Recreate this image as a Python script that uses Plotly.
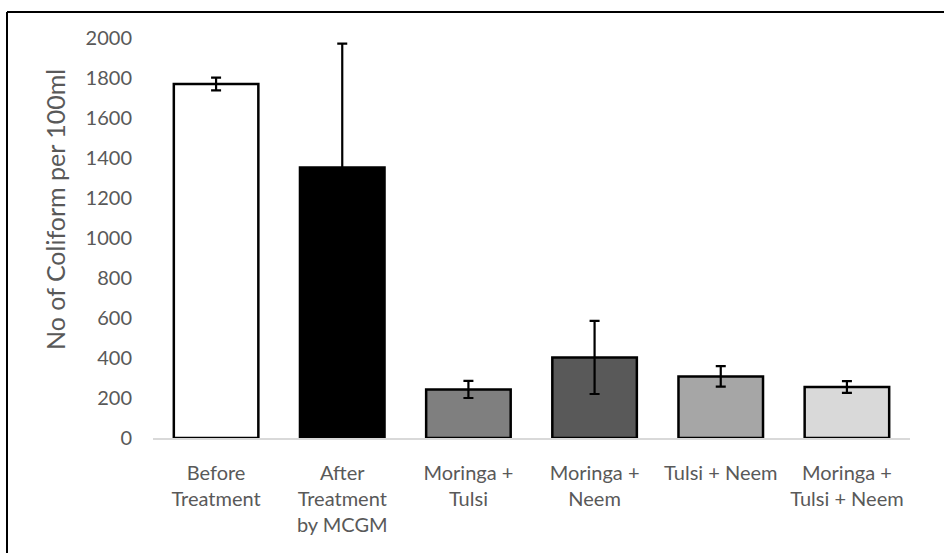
import plotly.graph_objects as go

categories = ["Before<br>Treatment", "After<br>Treatment<br>by MCGM", "Moringa +<br>Tulsi",
              "Moringa +<br>Neem", "Tulsi + Neem", "Moringa +<br>Tulsi + Neem"]
values = [1770, 1352, 243, 403, 308, 255]
errors = [32, 620, 43, 183, 51, 29]
colors = ["#ffffff", "#000000", "#7f7f7f", "#595959", "#a6a6a6", "#d9d9d9"]
y_ticks = list(range(0, 2001, 200))

W, H = 944, 553
L, R, T, B = 153, 34, 38, 115
pw, ph = W - L - R, H - T - B

fig = go.Figure(go.Bar(
    x=categories, y=values,
    marker=dict(color=colors, line=dict(color="black", width=2.5)),
    error_y=dict(type="data", array=errors, visible=True, color="black", thickness=2.2, width=5),
    width=0.67,
))

def px_to_paper_x(p):
    return (p - L) / pw

def px_to_paper_y(p):
    return (H - B - p) / ph

bx = px_to_paper_x(7)
by = px_to_paper_y(12)
fig.add_shape(type="line", xref="paper", yref="paper", x0=bx, x1=bx, y0=px_to_paper_y(560), y1=by,
              line=dict(color="black", width=2))
fig.add_shape(type="line", xref="paper", yref="paper", x0=bx, x1=px_to_paper_x(960), y0=by, y1=by,
              line=dict(color="black", width=2))

fig.add_annotation(text="No of Coliform per 100ml", textangle=-90, xref="paper", yref="paper",
                   x=px_to_paper_x(55), y=px_to_paper_y(210), showarrow=False,
                   xanchor="center", yanchor="middle",
                   font=dict(family="Lato", size=25, color="#595959"))

fig.update_layout(
    width=W, height=H,
    margin=dict(l=L, r=R, t=T, b=B),
    paper_bgcolor="white", plot_bgcolor="white",
    font=dict(family="Lato", size=20, color="#595959"),
    showlegend=False,
)
fig.update_xaxes(showline=True, linecolor="#d9d9d9", linewidth=1.5, showgrid=False,
                 tickangle=0, ticklabelstandoff=16, range=[-0.5, 5.5])
fig.update_yaxes(range=[0, 2000], tickvals=y_ticks, showgrid=False, zeroline=False,
                 showline=False, ticklabelstandoff=20)

fig.write_html("out.html", config={"displayModeBar": False},
               post_script="document.body.style.margin='0';document.body.style.overflow='hidden';")
